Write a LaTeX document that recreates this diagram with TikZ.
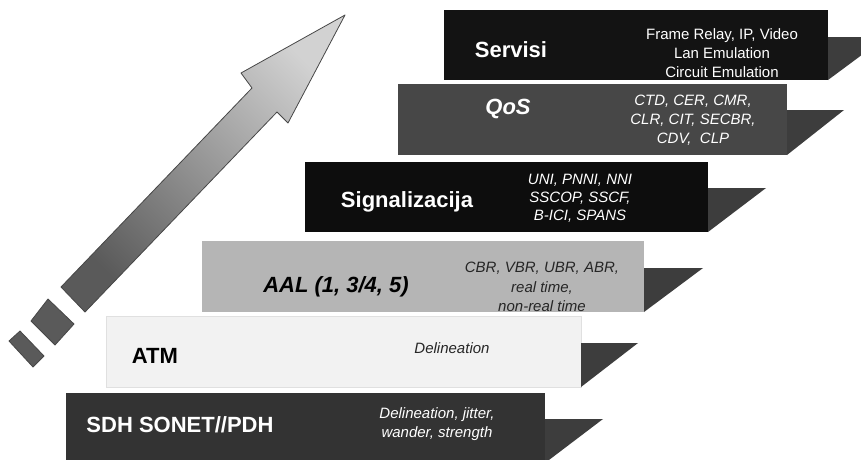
\documentclass[tikz,border=0pt]{standalone}
\usepackage{fontspec}
\setmainfont{Liberation Sans}
\usetikzlibrary{calc}
\definecolor{shd}{HTML}{3D3D3D}
\definecolor{cserv}{HTML}{131313}
\definecolor{cqos}{HTML}{474747}
\definecolor{csig}{HTML}{0D0D0D}
\definecolor{caal}{HTML}{B5B5B5}
\definecolor{catm}{HTML}{F2F2F2}
\definecolor{csdh}{HTML}{333333}
\definecolor{arrline}{HTML}{474747}
\definecolor{arrdark}{HTML}{5A5A5A}
\definecolor{arrlight}{HTML}{D2D2D2}
\begin{document}
\begin{tikzpicture}[x=1pt,y=-1pt,
  every node/.style={inner sep=0pt, outer sep=0pt},
  layerbox/.style={anchor=north west, minimum width=#1},
  layerbox/.default=100pt,
  lab/.style={font=\fontsize{22}{26}\selectfont\bfseries, anchor=base},
  labit/.style={font=\fontsize{22}{26}\selectfont\bfseries\itshape, anchor=base},
  small/.style={font=\fontsize{15}{19}\selectfont, align=center},
  arrowpart/.style={draw=arrline, line width=0.8pt, line join=round}
]
\clip (0,0) rectangle (861,459);
\fill[white] (0,0) rectangle (861,459);

% layer boxes
\node[layerbox=384pt, minimum height=70pt, fill=cserv] (serv) at (444,10) {};
\fill[shd] ($(serv.north east)+(0,27)$) -- ++(58,0) -- (serv.south east) -- cycle;
\node[layerbox=389pt, minimum height=71pt, fill=cqos] (qos) at (398,84) {};
\fill[shd] ($(qos.north east)+(0,26)$) -- ++(57,0) -- (qos.south east) -- cycle;
\node[layerbox=403pt, minimum height=70pt, fill=csig] (sig) at (305,162) {};
\fill[shd] ($(sig.north east)+(0,26)$) -- ++(58,0) -- (sig.south east) -- cycle;
\node[layerbox=442pt, minimum height=71pt, fill=caal] (aal) at (202,241) {};
\fill[shd] ($(aal.north east)+(0,27)$) -- ++(59,0) -- (aal.south east) -- cycle;
\node[layerbox=475pt, minimum height=71pt, fill=catm, draw=black!12, line width=0.6pt] (atm) at (106,316) {};
\fill[shd] ($(atm.north east)+(0,27)$) -- ++(57,0) -- (atm.south east) -- cycle;
\node[layerbox=479pt, minimum height=70pt, fill=csdh] (sdh) at (66,393) {};
\fill[shd] ($(sdh.north east)+(0,26)$) -- ++(58,0) -- (sdh.south east) -- cycle;

% labels
\node[lab, text=white] (servl) at (511,57) {Servisi};
\node[small, text=white] (servr) at (722,53) {Frame Relay, IP, Video\\Lan Emulation\\Circuit Emulation};
\node[labit, text=white] (qosl) at (508,114) {QoS};
\node[small, text=white, font=\fontsize{15}{19}\selectfont\itshape] (qosr) at (693,120) {CTD, CER, CMR,\\CLR, CIT, SECBR,\\CDV,\ \ CLP};
\node[lab, text=white] (sigl) at (407,207) {Signalizacija};
\node[small, text=white, font=\fontsize{15}{18}\selectfont\itshape] (sigr) at (580,198) {UNI, PNNI, NNI\\SSCOP, SSCF,\\B-ICI, SPANS};
\node[labit, text=black] (aall) at (336,292) {AAL (1, 3/4, 5)};
\node[small, text=black!85, font=\fontsize{15}{19.5}\selectfont\itshape] (aalr) at (542,287) {CBR, VBR, UBR, ABR,\\real time,\\non-real time};
\node[lab, text=black] (atml) at (155,363) {ATM};
\node[small, text=black!85, font=\fontsize{15}{19}\selectfont\itshape] (atmr) at (452,348) {Delineation};
\node[lab, text=white] (sdhl) at (180,432) {SDH SONET//PDH};
\node[small, text=white, font=\fontsize{15}{19}\selectfont\itshape] (sdhr) at (437,424) {Delineation, jitter,\\wander, strength};

% rising arrow
\path[arrowpart, top color=arrlight, bottom color=arrdark, shading angle=-45]
  (61,287) -- (252,88) -- (241,73) -- (345,15) -- (288,123) -- (277,112) -- (85,312) -- cycle;
\path[arrowpart, fill=arrdark] (48,299) -- (74,324) -- (55,345) -- (31,321) -- cycle;
\path[arrowpart, fill=arrdark] (20,331) -- (44,356) -- (33,367) -- (9,341) -- cycle;
\end{tikzpicture}
\end{document}
